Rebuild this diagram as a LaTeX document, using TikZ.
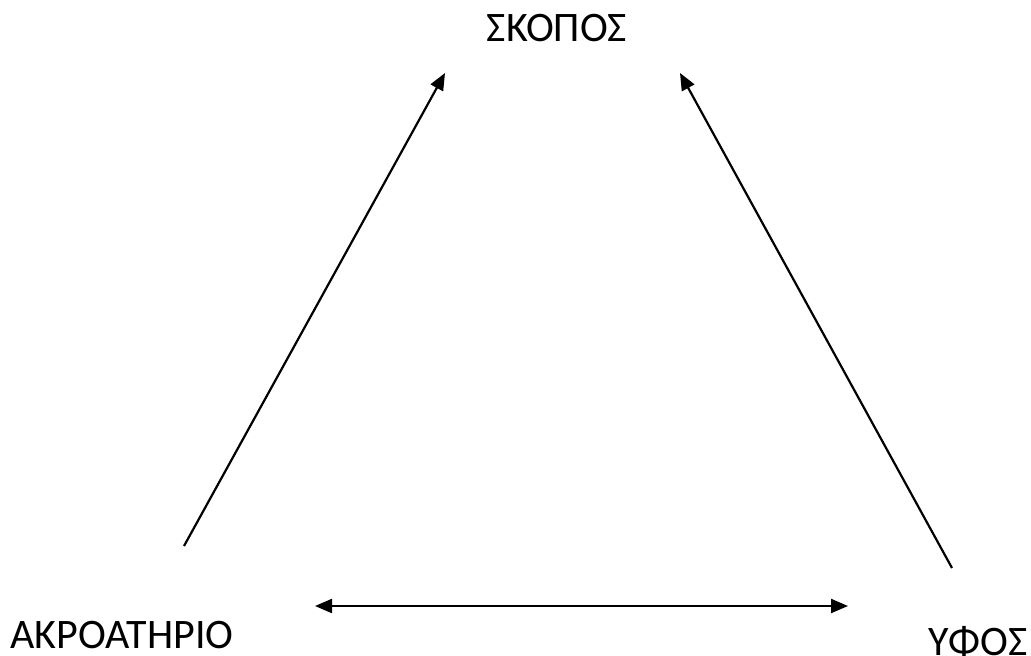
\documentclass[tikz,border=0pt]{standalone}
\usepackage{fontspec}
\setmainfont{Carlito}
\usetikzlibrary{arrows.meta}
\tikzset{
  label/.style={inner sep=0pt, font=\fontsize{42}{50}\selectfont},
  tip/.tip={Triangle[length=17pt, width=14pt]},
  link/.style={line width=2.2pt, -tip}
}

\begin{document}
\begin{tikzpicture}[x=1pt, y=-1pt]

  \useasboundingbox (0,0) rectangle (1031,656);

  \node[label] (skopos) at (557,28) {ΣΚΟΠΟΣ};
  \node[label] (akro)   at (122,635) {ΑΚΡΟΑΤΗΡΙΟ};
  \node[label] (yfos)   at (978,642) {ΥΦΟΣ};

  \coordinate (akro-up)    at (184,546);
  \coordinate (yfos-up)    at (952,568);
  \coordinate (skopos-l)   at (445,73);
  \coordinate (skopos-r)   at (680,73);
  \coordinate (akro-side)  at (315,606);
  \coordinate (yfos-side)  at (848,606);

  \draw[link] (akro-up) -- (skopos-l);
  \draw[link] (yfos-up) -- (skopos-r);
  \draw[link, tip-tip] (akro-side) -- (yfos-side);

\end{tikzpicture}
\end{document}
